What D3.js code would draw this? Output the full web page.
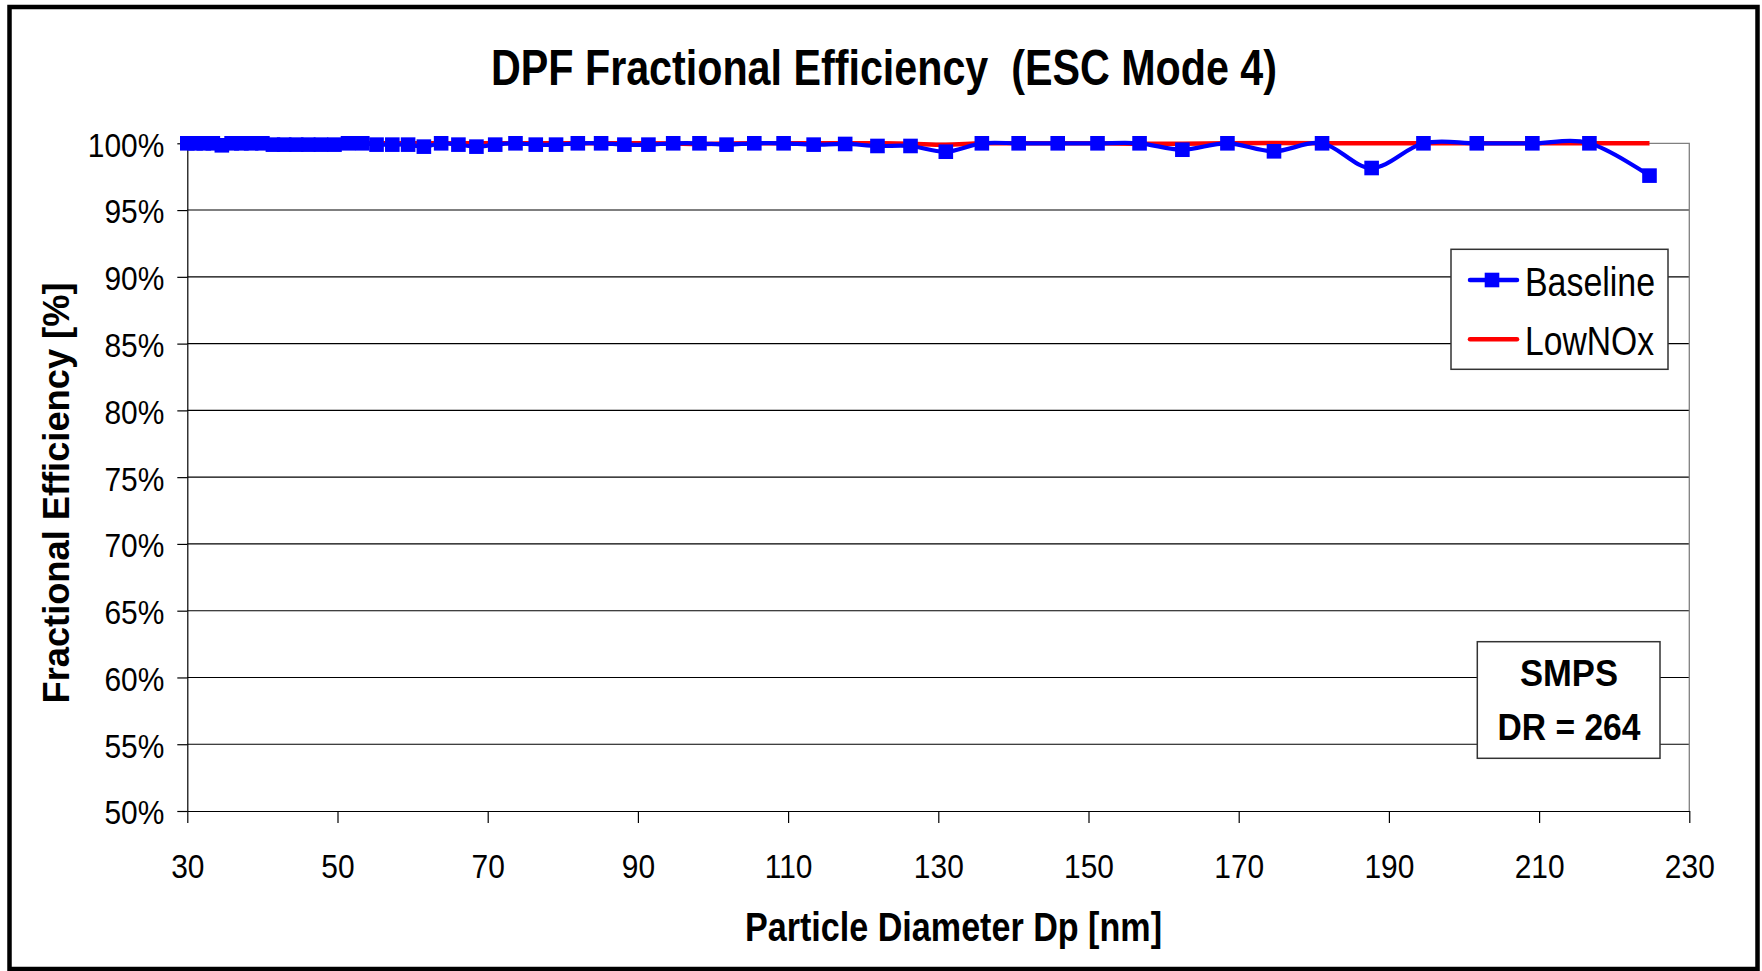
<!DOCTYPE html>
<html>
<head>
<meta charset="utf-8">
<script src="https://cdn.jsdelivr.net/npm/d3@7"></script>
<style>
  html, body { margin: 0; padding: 0; background: #fff; }
  svg { display: block; font-family: "Liberation Sans", Arial, sans-serif; }
</style>
</head>
<body>
<svg id="chart" width="1762" height="971"></svg>
<script>
// ---- data ----
const diameters = [30.0, 31.1, 32.2, 33.4, 34.6, 35.9, 37.2, 38.5, 40.0, 41.4, 42.9, 44.5, 46.1, 47.8, 49.6,
  51.4, 53.3, 55.2, 57.3, 59.4, 61.5, 63.8, 66.1, 68.5, 71.0, 73.7, 76.4, 79.1, 82.0, 85.1, 88.2,
  91.4, 94.7, 98.2, 101.8, 105.5, 109.4, 113.4, 117.6, 121.9, 126.3, 131.0, 135.8, 140.7, 145.9,
  151.2, 156.8, 162.5, 168.5, 174.7, 181.1, 187.7, 194.6, 201.7, 209.1, 216.7, 224.7];
const baseline = [100, 100, 100, 100, 99.85, 100, 100, 100, 100, 99.9, 99.9, 99.9, 99.9, 99.9, 99.9,
  100, 100, 99.9, 99.9, 99.9, 99.75, 100, 99.9, 99.75, 99.9, 100, 99.9, 99.9, 100, 100, 99.9,
  99.9, 100, 100, 99.9, 100, 100, 99.9, 99.95, 99.8, 99.8, 99.37, 100, 100, 100,
  100, 100, 99.52, 100, 99.4, 100, 98.15, 100, 100, 100, 100, 97.58];
const lowNOx = [100, 100, 100, 100, 100, 100, 100, 100, 100, 100, 100, 100, 100, 100, 100,
  100, 100, 100, 100, 100, 100, 100, 100, 100, 100, 100, 100, 100, 100, 100, 100,
  100, 99.98, 99.95, 99.98, 100, 100, 100, 100, 100, 99.97, 99.9, 100, 100, 100,
  100, 99.97, 99.97, 100, 100.02, 100, 100, 100, 100, 100, 100, 100];
const xTicks = [30, 50, 70, 90, 110, 130, 150, 170, 190, 210, 230];
const yTicks = [50, 55, 60, 65, 70, 75, 80, 85, 90, 95, 100];
const seriesNames = ["Baseline", "LowNOx"];
const titleText = "DPF Fractional Efficiency  (ESC Mode 4)";
const xTitle = "Particle Diameter Dp [nm]";
const yTitle = "Fractional Efficiency [%]";
const noteLines = ["SMPS", "DR = 264"];

// ---- layout ----
const svg = d3.select("#chart");
const L = 187.3, R = 1689.3, T = 143.3, B = 811;
const x = d3.scaleLinear().domain([30, 230]).range([L, R]);
const y = d3.scaleLinear().domain([50, 100]).range([B, T]);

// outer frame
svg.append("rect").attr("x", 9.5).attr("y", 7).attr("width", 1748).attr("height", 962)
  .attr("fill", "#fff").attr("stroke", "#000").attr("stroke-width", 4.5);

// gridlines
svg.append("g").selectAll("line").data(yTicks.filter(v => v > 50 && v < 100)).join("line")
  .attr("x1", L).attr("x2", R).attr("y1", d => y(d)).attr("y2", d => y(d))
  .attr("stroke", "#000").attr("stroke-width", 1.1);
// plot border top/right (gray)
svg.append("path").attr("d", `M${L},${T}H${R}V${B}`).attr("fill", "none")
  .attr("stroke", "#808080").attr("stroke-width", 1.3);

// axes
const yAxis = d3.axisLeft(y).tickValues(yTicks).tickSize(10).tickSizeOuter(0).tickPadding(13)
  .tickFormat(d => d + "%");
const gy = svg.append("g").attr("transform", `translate(${L},0)`).call(yAxis);
const xAxis = d3.axisBottom(x).tickValues(xTicks).tickSize(12).tickSizeOuter(0).tickPadding(31);
const gx = svg.append("g").attr("transform", `translate(0,${B})`).call(xAxis);
[gx, gy].forEach(g => {
  g.select(".domain").attr("stroke", "#000").attr("stroke-width", 1.2);
  g.selectAll(".tick line").attr("stroke", "#000").attr("stroke-width", 1.2);
  g.selectAll(".tick text").attr("class", "cond").attr("fill", "#000")
    .attr("font-size", 34).attr("font-family", '"Liberation Sans", Arial, sans-serif');
});
gy.selectAll(".tick text").attr("dy", "0.38em");

// series
const ptsB = diameters.map((d, i) => [d, baseline[i]]);
const ptsL = diameters.map((d, i) => [d, lowNOx[i]]);
const line = d3.line().x(d => x(d[0])).y(d => y(d[1])).curve(d3.curveCardinal.tension(0));
svg.append("path").datum(ptsL).attr("d", line).attr("fill", "none")
  .attr("stroke", "#FF0000").attr("stroke-width", 4.5).attr("stroke-linejoin", "round");
svg.append("path").datum(ptsB).attr("d", line).attr("fill", "none")
  .attr("stroke", "#0000FF").attr("stroke-width", 4.2).attr("stroke-linejoin", "round");
const ms = 14.6;
svg.append("g").selectAll("rect").data(ptsB).join("rect")
  .attr("x", d => x(d[0]) - ms / 2).attr("y", d => y(d[1]) - ms / 2)
  .attr("width", ms).attr("height", ms).attr("fill", "#0000FF");

// title
svg.append("text").attr("x", 884).attr("y", 85).attr("text-anchor", "middle")
  .attr("font-size", 50).attr("font-weight", "bold").style("white-space", "pre")
  .attr("textLength", 786).attr("lengthAdjust", "spacingAndGlyphs").text(titleText);
// x title
svg.append("text").attr("x", 953.5).attr("y", 941).attr("text-anchor", "middle")
  .attr("font-size", 41).attr("font-weight", "bold")
  .attr("textLength", 417).attr("lengthAdjust", "spacingAndGlyphs").text(xTitle);
// y title
svg.append("text").attr("transform", "translate(69,493) rotate(-90)").attr("text-anchor", "middle")
  .attr("font-size", 37).attr("font-weight", "bold")
  .attr("textLength", 421).attr("lengthAdjust", "spacingAndGlyphs").text(yTitle);

// legend
const lg = svg.append("g");
lg.append("rect").attr("x", 1451).attr("y", 249.3).attr("width", 217).attr("height", 120)
  .attr("fill", "#fff").attr("stroke", "#333").attr("stroke-width", 1.5);
const legendRows = [
  { name: seriesNames[0], color: "#0000FF", marker: true, cy: 280, w: 130 },
  { name: seriesNames[1], color: "#FF0000", marker: false, cy: 339.3, w: 129 }
];
legendRows.forEach(r => {
  lg.append("line").attr("x1", 1470).attr("x2", 1517).attr("y1", r.cy).attr("y2", r.cy)
    .attr("stroke", r.color).attr("stroke-width", 4.5).attr("stroke-linecap", "round");
  if (r.marker) lg.append("rect").attr("x", 1492 - ms / 2).attr("y", r.cy - ms / 2)
    .attr("width", ms).attr("height", ms).attr("fill", r.color);
  lg.append("text").attr("x", 1525).attr("y", r.cy + 15.5).attr("font-size", 40)
    .attr("textLength", r.w).attr("lengthAdjust", "spacingAndGlyphs").text(r.name);
});

// note box
const nb = svg.append("g");
nb.append("rect").attr("x", 1477.3).attr("y", 641.7).attr("width", 182.7).attr("height", 116.6)
  .attr("fill", "#fff").attr("stroke", "#333").attr("stroke-width", 1.5);
nb.append("text").attr("x", 1569).attr("y", 686).attr("text-anchor", "middle")
  .attr("font-size", 36).attr("font-weight", "bold")
  .attr("textLength", 98).attr("lengthAdjust", "spacingAndGlyphs").text(noteLines[0]);
nb.append("text").attr("x", 1569).attr("y", 740).attr("text-anchor", "middle")
  .attr("font-size", 36).attr("font-weight", "bold")
  .attr("textLength", 143).attr("lengthAdjust", "spacingAndGlyphs").text(noteLines[1]);

// condense tick labels like the reference
svg.selectAll("text.cond").each(function () {
  const len = this.getComputedTextLength();
  d3.select(this).attr("textLength", len * 0.88).attr("lengthAdjust", "spacingAndGlyphs");
});
</script>
</body>
</html>
